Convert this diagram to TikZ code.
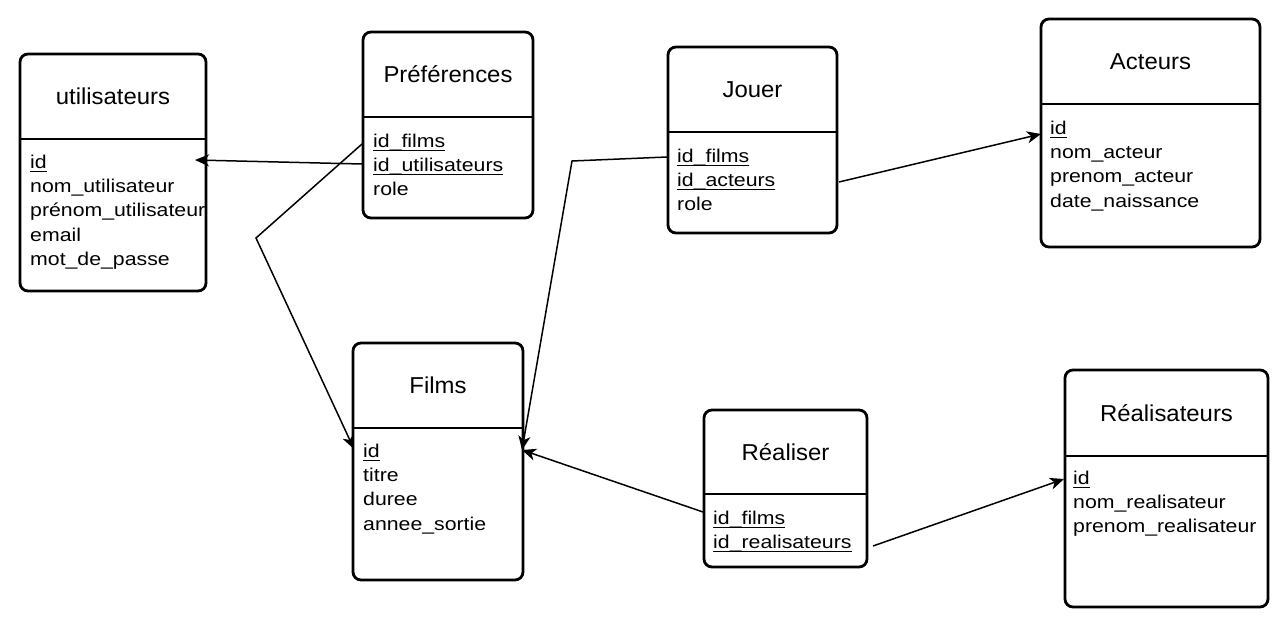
\documentclass[tikz,border=0pt]{standalone}
\usepackage{fontspec}
\setmainfont{Liberation Sans}
\newfontfamily\fieldfont{Liberation Sans}[FakeStretch=1.15]
\newfontfamily\titlefont{Liberation Sans}[FakeStretch=1.04]
\usetikzlibrary{arrows.meta,fit}
\newcommand\ulf[1]{\setbox0\hbox{#1}\rlap{\rule[-3.9pt]{\wd0}{1.3pt}}\box0}
% #1 name, #2 x1, #3 y1, #4 x2, #5 y2, #6 ydiv, #7 title
\newcommand\entity[7]{%
  \node[entbox, fit={(#2,#3)(#4,#5)}] (#1) {};
  \draw[divline] (#1.west |- 0,#6) -- (#1.east |- 0,#6);
  \node[titletext] (#1-title) at ({(#2+#4)/2},{(#3+#6)/2}) {#7};
}
\begin{document}
\begin{tikzpicture}[x=1pt,y=-1pt,
  entbox/.style={draw, line width=2.8pt, rounded corners=8pt, inner sep=0pt},
  divline/.style={line width=2.8pt},
  titletext/.style={font=\titlefont\fontsize{23}{27}\selectfont, inner sep=0pt},
  fieldtext/.style={font=\fieldfont\fontsize{18.5}{24}\selectfont, inner sep=0pt, anchor=base west},
  link/.style={line width=1.5pt},
  arr/.style={link, -{Stealth[length=14pt,width=12pt,inset=4pt]}}]
\fill[white] (0,0) rectangle (1286,626);
\useasboundingbox (0,0) rectangle (1286,626);

% fields
\begin{scope}
\clip (21,140) rectangle (205,290);
\foreach \t [count=\i] in {\ulf{id},nom\_utilisateur,prénom\_utilisateur,email,mot\_de\_passe}
  \node[fieldtext] (util-\i) at (30,{168+24.4*(\i-1)}) {\t};
\end{scope}
\foreach \t [count=\i] in {\ulf{id\_films},\ulf{id\_utilisateurs},role}
  \node[fieldtext] (pref-\i) at (373,{147+24.4*(\i-1)}) {\t};
\foreach \t [count=\i] in {\ulf{id\_films},\ulf{id\_acteurs},role}
  \node[fieldtext] (jouer-\i) at (677,{162+24.4*(\i-1)}) {\t};
\foreach \t [count=\i] in {\ulf{id},nom\_acteur,prenom\_acteur,date\_naissance}
  \node[fieldtext] (act-\i) at (1050,{134+24.4*(\i-1)}) {\t};
\foreach \t [count=\i] in {\ulf{id},titre,duree,annee\_sortie}
  \node[fieldtext] (films-\i) at (363,{457+24.4*(\i-1)}) {\t};
\foreach \t [count=\i] in {\ulf{id\_films},\ulf{id\_realisateurs}}
  \node[fieldtext] (real-\i) at (713,{524+24.4*(\i-1)}) {\t};
\foreach \t [count=\i] in {\ulf{id},nom\_realisateur,prenom\_realisateur}
  \node[fieldtext] (reals-\i) at (1073,{484+24.4*(\i-1)}) {\t};

% entity boxes
\entity{util}{20}{54}{206}{291}{139}{utilisateurs}
\entity{pref}{363}{32}{533}{218}{117}{Préférences}
\entity{jouer}{668}{47}{837}{233}{132}{Jouer}
\entity{act}{1041}{19}{1260}{247}{104}{Acteurs}
\entity{films}{353}{343}{523}{580}{428}{Films}
\entity{real}{704}{410}{867}{567}{494}{Réaliser}
\entity{reals}{1065}{370}{1268}{607}{456}{Réalisateurs}

% attachment points
\coordinate (pA) at (362,144);
\coordinate (pB) at (362,164);
\coordinate (pBend) at (256,238);
\coordinate (uId) at (195,160);
\coordinate (fIdL) at (354,449);
\coordinate (fIdR) at (522,450);
\coordinate (jA) at (667,157);
\coordinate (jBend) at (572,161);
\coordinate (jB) at (839,182);
\coordinate (aId) at (1041,134);
\coordinate (rA) at (703,512);
\coordinate (rB) at (873,546);
\coordinate (rsId) at (1064,479);

% connectors
\draw[arr] (pB) -- (uId);
\draw[arr] (pA) -- (pBend) -- (fIdL);
\draw[arr] (jA) -- (jBend) -- (fIdR);
\draw[arr] (jB) -- (aId);
\draw[arr] (rA) -- (fIdR);
\draw[arr] (rB) -- (rsId);
\end{tikzpicture}
\end{document}
